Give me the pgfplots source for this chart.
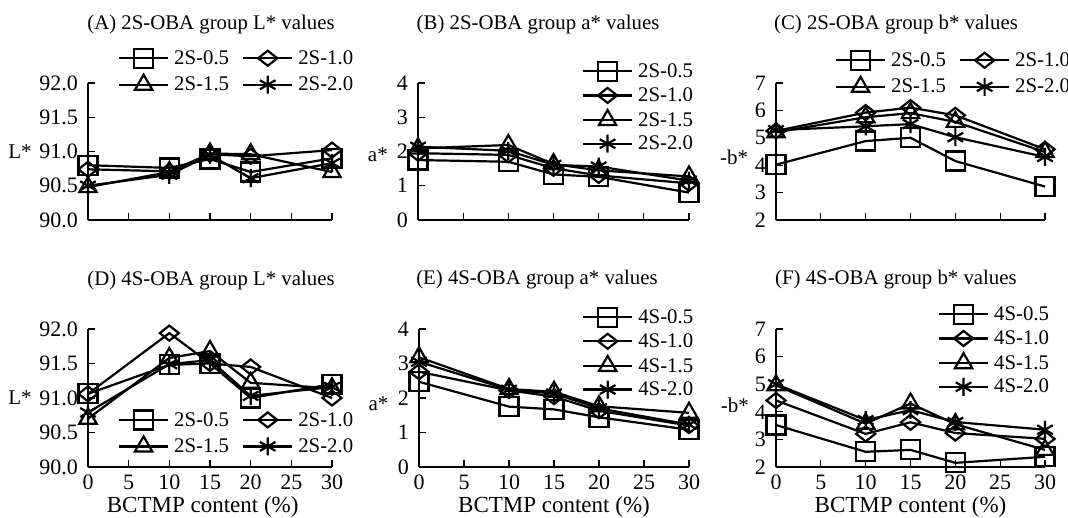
\documentclass[border=0pt]{standalone}
\usepackage{fontspec}
\setmainfont{Liberation Serif}
\usepackage{pgfplots}
\pgfplotsset{compat=1.18}
\pgfplotsset{
  legend image code/.code={\draw[mark repeat=2,mark phase=2,#1] plot coordinates {(0bp,0bp) (24.5bp,0bp) (49bp,0bp)};},
  panel/.style={
    scale only axis,
    height=137bp,
    clip=false,
    xmin=0, xmax=30, xtick={0,5,10,15,20,25,30},
    axis x line*=bottom, axis y line*=left,
    axis line style={line width=1.3bp, -},
    tick align=inside,
    major tick length=7bp,
    tick style={line width=1.1bp, black},
    /pgf/number format/assume math mode=true,
    tick label style={font=\fontsize{22bp}{24bp}\selectfont},
    yticklabel style={inner sep=0pt, xshift=-10bp},
    xticklabel style={inner sep=0pt, yshift=-8bp},
    every axis title/.style={anchor=center, font=\fontsize{20.8bp}{24bp}\selectfont},
    every axis y label/.style={anchor=center, font=\fontsize{21bp}{24bp}\selectfont},
    every axis x label/.style={at={(axis description cs:0.5,-0.29)}, anchor=center, font=\fontsize{23bp}{26bp}\selectfont},
    legend style={draw=none, fill=none, inner sep=0pt, outer sep=0pt,
      font=\fontsize{20.8bp}{24bp}\selectfont, row sep=7bp,
      nodes={inner sep=0pt}, anchor=north west,
      /tikz/every odd column/.append style={column sep=5bp},
      /tikz/every even column/.append style={column sep=13bp}},
    legend cell align=left,
  },
  Lax/.style={ymin=90, ymax=92, ytick={90,90.5,91,91.5,92},
    yticklabel style={/pgf/number format/.cd, fixed, fixed zerofill, precision=1}},
  Aax/.style={ymin=0, ymax=4, ytick={0,1,2,3,4}},
  Bax/.style={ymin=2, ymax=7, ytick={2,3,4,5,6,7}},
  s1/.style={black, line width=2.2bp, mark=square, mark size=9.5bp, mark options={solid, fill=white}},
  s2/.style={black, line width=2.2bp, mark=diamond, mark size=7.5bp, mark options={solid, fill=white, xscale=1.7}},
  s3/.style={black, line width=2.2bp, mark=triangle, mark size=10bp, mark options={solid, fill=white}},
  s4/.style={black, line width=2.2bp, mark=asterisk, mark size=9bp, mark options={solid}},
}
\begin{document}
\begin{tikzpicture}[x=1bp,y=1bp]
\useasboundingbox (0,0) rectangle (1068,518);
% (A)
\begin{axis}[panel, Lax, width=244bp, at={(88bp,298bp)}, anchor=south west,
  xticklabels={},
  title={(A) 2S-OBA group L* values}, title style={at={(axis description cs:0.504,1.43)}},
  ylabel={L*}, ylabel style={at={(axis description cs:-0.279,0.5)}},
  legend columns=2, legend style={at={(axis description cs:0.123,1.25)}}]
\addplot[s1] coordinates {(0,90.80)(10,90.76)(15,90.89)(20,90.70)(30,90.90)};
\addplot[s2] coordinates {(0,90.74)(10,90.71)(15,90.96)(20,90.93)(30,91.02)};
\addplot[s3] coordinates {(0,90.48)(10,90.70)(15,90.97)(20,90.96)(30,90.70)};
\addplot[s4] coordinates {(0,90.50)(10,90.66)(15,90.95)(20,90.61)(30,90.83)};
\legend{2S-0.5,2S-1.0,2S-1.5,2S-2.0}
\end{axis}
% (B)
\begin{axis}[panel, Aax, width=271bp, at={(418bp,298bp)}, anchor=south west,
  xticklabels={},
  title={(B) 2S-OBA group a* values}, title style={at={(axis description cs:0.443,1.43)}},
  ylabel={a*}, ylabel style={at={(axis description cs:-0.148,0.48)}},
  legend style={at={(axis description cs:0.605,1.155)}}]
\addplot[s1] coordinates {(0,1.75)(10,1.70)(15,1.33)(20,1.26)(30,0.80)};
\addplot[s2] coordinates {(0,1.95)(10,1.90)(15,1.51)(20,1.30)(30,1.07)};
\addplot[s3] coordinates {(0,2.09)(10,2.19)(15,1.63)(20,1.45)(30,1.27)};
\addplot[s4] coordinates {(0,2.14)(10,2.02)(15,1.61)(20,1.56)(30,1.15)};
\legend{2S-0.5,2S-1.0,2S-1.5,2S-2.0}
\end{axis}
% (C)
\begin{axis}[panel, Bax, width=269bp, at={(776bp,298bp)}, anchor=south west,
  xticklabels={},
  title={(C) 2S-OBA group b* values}, title style={at={(axis description cs:0.446,1.43)}},
  ylabel={-b*}, ylabel style={at={(axis description cs:-0.156,0.46)}},
  legend columns=2, legend style={at={(axis description cs:0.219,1.235)}}]
\addplot[s1] coordinates {(0,4.02)(10,4.88)(15,5.00)(20,4.15)(30,3.22)};
\addplot[s2] coordinates {(0,5.25)(10,5.92)(15,6.10)(20,5.82)(30,4.58)};
\addplot[s3] coordinates {(0,5.20)(10,5.75)(15,5.90)(20,5.58)(30,4.48)};
\addplot[s4] coordinates {(0,5.28)(10,5.42)(15,5.50)(20,5.02)(30,4.30)};
\legend{2S-0.5,2S-1.0,2S-1.5,2S-2.0}
\end{axis}
% (D)
\begin{axis}[panel, Lax, width=244bp, height=138bp, at={(88bp,51bp)}, anchor=south west,
  xlabel={BCTMP content (\%)}, xlabel style={at={(axis description cs:0.47,-0.29)}},
  title={(D) 4S-OBA group L* values}, title style={at={(axis description cs:0.504,1.35)}},
  ylabel={L*}, ylabel style={at={(axis description cs:-0.279,0.5)}},
  legend columns=2, legend style={at={(axis description cs:0.123,0.41)}}]
\addplot[s1] coordinates {(0,91.06)(10,91.48)(15,91.50)(20,91.00)(30,91.20)};
\addplot[s2] coordinates {(0,91.06)(10,91.94)(15,91.50)(20,91.45)(30,91.00)};
\addplot[s3] coordinates {(0,90.70)(10,91.58)(15,91.68)(20,91.22)(30,91.14)};
\addplot[s4] coordinates {(0,90.79)(10,91.49)(15,91.55)(20,91.03)(30,91.16)};
\legend{2S-0.5,2S-1.0,2S-1.5,2S-2.0}
\end{axis}
% (E)
\begin{axis}[panel, Aax, width=270bp, height=138bp, at={(419bp,51bp)}, anchor=south west,
  xlabel={BCTMP content (\%)},
  title={(E) 4S-OBA group a* values}, title style={at={(axis description cs:0.437,1.355)}},
  ylabel={a*}, ylabel style={at={(axis description cs:-0.15,0.46)}},
  legend style={at={(axis description cs:0.604,1.155)}}]
\addplot[s1] coordinates {(0,2.47)(10,1.75)(15,1.67)(20,1.44)(30,1.08)};
\addplot[s2] coordinates {(0,2.76)(10,2.22)(15,2.04)(20,1.63)(30,1.20)};
\addplot[s3] coordinates {(0,3.18)(10,2.26)(15,2.18)(20,1.76)(30,1.57)};
\addplot[s4] coordinates {(0,3.05)(10,2.24)(15,2.13)(20,1.70)(30,1.23)};
\legend{4S-0.5,4S-1.0,4S-1.5,4S-2.0}
\end{axis}
% (F)
\begin{axis}[panel, Bax, width=269bp, height=138bp, at={(776bp,51bp)}, anchor=south west,
  xlabel={BCTMP content (\%)},
  title={(F) 4S-OBA group b* values}, title style={at={(axis description cs:0.446,1.355)}},
  ylabel={-b*}, ylabel style={at={(axis description cs:-0.153,0.45)}},
  legend style={at={(axis description cs:0.602,1.175)}}]
\addplot[s1] coordinates {(0,3.52)(10,2.55)(15,2.62)(20,2.15)(30,2.37)};
\addplot[s2] coordinates {(0,4.41)(10,3.20)(15,3.62)(20,3.23)(30,3.02)};
\addplot[s3] coordinates {(0,4.96)(10,3.57)(15,4.30)(20,3.55)(30,2.62)};
\addplot[s4] coordinates {(0,5.00)(10,3.70)(15,4.06)(20,3.63)(30,3.35)};
\legend{4S-0.5,4S-1.0,4S-1.5,4S-2.0}
\end{axis}
\end{tikzpicture}
\end{document}
